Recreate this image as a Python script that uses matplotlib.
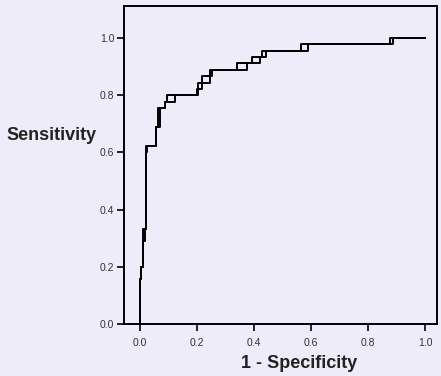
import matplotlib
matplotlib.use("Agg")
import matplotlib.pyplot as plt

# ROC curve vertices (1 - specificity, sensitivity); diagonal segments are ties
fpr = [0.000, 0.000, 0.005, 0.005, 0.011, 0.011, 0.016, 0.021, 0.021, 0.026,
       0.058, 0.058, 0.064, 0.071, 0.088, 0.088, 0.096, 0.123, 0.199, 0.204,
       0.216, 0.246, 0.252, 0.339, 0.374, 0.394, 0.421, 0.429, 0.441, 0.564,
       0.590, 0.877, 0.889, 1.000]
tpr = [0.000, 0.156, 0.156, 0.200, 0.200, 0.289, 0.333, 0.333, 0.600, 0.622,
       0.622, 0.689, 0.689, 0.756, 0.756, 0.778, 0.778, 0.800, 0.800, 0.822,
       0.844, 0.867, 0.889, 0.889, 0.911, 0.911, 0.933, 0.933, 0.956, 0.956,
       0.978, 0.978, 1.000, 1.000]

tick_values = [0.0, 0.2, 0.4, 0.6, 0.8, 1.0]
tick_labels = ["0.0", "0.2", "0.4", "0.6", "0.8", "1.0"]

bg = "#EDECF8"
plt.rcParams["font.family"] = ["Liberation Sans", "DejaVu Sans"]

fig = plt.figure(figsize=(4.41, 3.76), dpi=100, facecolor=bg)
ax = fig.add_axes([124 / 441, 52 / 376, 313 / 441, 318 / 376], facecolor=bg)

# draw both step variants so tied segments render as small boxes
ax.plot(fpr, tpr, drawstyle="steps-post", color="black", lw=1.4)
ax.plot(fpr, tpr, drawstyle="steps-pre", color="black", lw=1.4)

ax.set_xlim(-0.056, 1.042)
ax.set_ylim(0.0, 1.112)
ax.set_xticks(tick_values)
ax.set_xticklabels(tick_labels)
ax.set_yticks(tick_values)
ax.set_yticklabels(tick_labels)
ax.tick_params(direction="out", length=5, width=1.2, colors="black",
               labelsize=7.5, labelcolor="#333333", pad=2)
ax.tick_params(axis="x", pad=5)
for s in ax.spines.values():
    s.set_linewidth(1.4)
    s.set_color("black")

fig.text(6 / 441, 1 - 136 / 376, "Sensitivity", ha="left", va="center",
         fontsize=13, fontweight="bold", color="#222222")
fig.text(299 / 441, 1 - 363 / 376, "1 - Specificity", ha="center", va="center",
         fontsize=13, fontweight="bold", color="#222222")

fig.savefig("out.png", dpi=100, facecolor=bg)
